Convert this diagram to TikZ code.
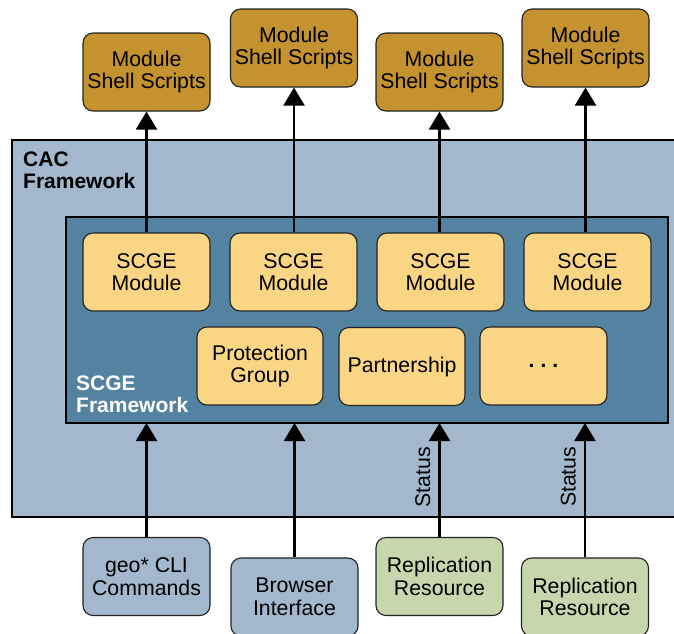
\documentclass[tikz,border=0pt]{standalone}
\usepackage{fontspec}
\setmainfont{Liberation Sans}
\usetikzlibrary{arrows.meta}
\definecolor{gold}{HTML}{C4922E}
\definecolor{lightyel}{HTML}{F9D584}
\definecolor{cacblue}{HTML}{A3B8CC}
\definecolor{scgeblue}{HTML}{5383A1}
\definecolor{greenbox}{HTML}{C8D6AE}
\definecolor{edge}{HTML}{222222}
\tikzset{
  box/.style={draw=edge, line width=1.1pt, rounded corners=10pt, minimum width=127pt, minimum height=78pt,
    align=center, font=\fontsize{21.3}{22.5}\selectfont, text=black, inner sep=0pt},
  goldbox/.style={box, fill=gold},
  modbox/.style={box, fill=lightyel},
  graybox/.style={box, fill=cacblue},
  greenbx/.style={box, fill=greenbox},
  frame/.style={draw=black, line width=2.2pt},
  arr/.style={line width=2.2pt, -{Triangle[width=21pt,length=18pt]}},
  lab/.style={font=\bfseries\fontsize{21}{21.5}\selectfont, align=left, inner sep=0pt, anchor=north west},
  stat/.style={rotate=90, font=\fontsize{21.3}{22}\selectfont, anchor=south, inner sep=8pt},
}
\begin{document}
\begin{tikzpicture}[x=1pt,y=-1pt]
\useasboundingbox (0,0) rectangle (674,633);
% frames
\draw[frame, fill=cacblue] (12,140) rectangle (690,517);
\draw[frame, fill=scgeblue] (66,217) rectangle (668,423);
\node[lab] (caclab) at (23,152) {CAC\\Framework};
\node[lab, text=white] (scgelab) at (76,376) {SCGE\\Framework};
% top boxes
\node[goldbox] (t1) at (146.5,72) {Module\\Shell Scripts};
\node[goldbox] (t2) at (294,48) {Module\\Shell Scripts};
\node[goldbox] (t3) at (439.5,72) {Module\\Shell Scripts};
\node[goldbox] (t4) at (585.5,48) {Module\\Shell Scripts};
% modules
\node[modbox] (m1) at (146.5,272) {SCGE\\Module};
\node[modbox] (m2) at (293.5,272) {SCGE\\Module};
\node[modbox] (m3) at (440.5,272) {SCGE\\Module};
\node[modbox] (m4) at (587.5,272) {SCGE\\Module};
\node[modbox, minimum width=126pt] (pg) at (260,366) {Protection\\Group};
\node[modbox, minimum width=126pt] (pa) at (402,366.5) {Partnership};
\node[modbox, minimum width=127pt] (dd) at (543.5,366) {\textbf{.\hspace{6pt}.\hspace{6pt}.}};
% bottom
\node[graybox] (b1) at (146.5,576.5) {geo* CLI\\Commands};
\node[graybox] (b2) at (294.5,597) {Browser\\Interface};
\node[greenbx] (r1) at (439.5,576.5) {Replication\\Resource};
\node[greenbx] (r2) at (585,597) {Replication\\Resource};
% inner frame bottom coordinates
\coordinate (f1) at (146.5,423);
\coordinate (f2) at (294.5,423);
\coordinate (f3) at (439.5,423);
\coordinate (f4) at (585,423);
% arrows up
\draw[arr] (m1.north) -- (t1.south);
\draw[arr] (m2.north -| t2.south) -- (t2.south);
\draw[arr] (m3.north -| t3.south) -- (t3.south);
\draw[arr] (m4.north -| t4.south) -- (t4.south);
\draw[arr] (b1.north) -- (f1);
\draw[arr] (b2.north) -- (f2);
\draw[arr] (r1.north) -- (f3) node[stat, pos=0.526] (s1) {Status};
\draw[arr] (r2.north) -- (f4) node[stat, pos=0.6] (s2) {Status};
\end{tikzpicture}
\end{document}
